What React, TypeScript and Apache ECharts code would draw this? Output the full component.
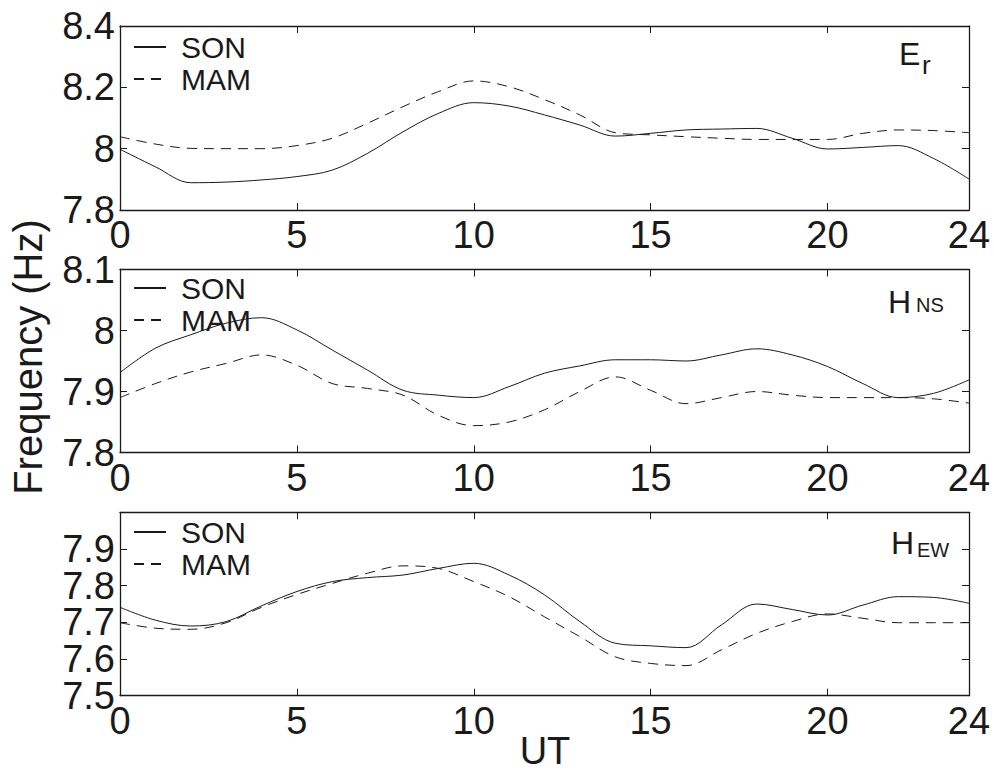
import React, { useEffect, useRef } from "react";
import * as echarts from "echarts";

const HOURS = [0, 1, 2, 3, 4, 5, 6, 7, 8, 9, 10, 11, 12, 13, 14, 15, 16, 17, 18, 19, 20, 21, 22, 23, 24];

const ER_SON = [7.998, 7.941, 7.889, 7.891, 7.898, 7.909, 7.93, 7.985, 8.055, 8.115, 8.15, 8.139, 8.11, 8.077, 8.041, 8.05, 8.061, 8.064, 8.066, 8.034, 7.999, 8.004, 8.01, 7.968, 7.901];
const ER_MAM = [8.039, 8.015, 8.001, 8.0, 8.0, 8.01, 8.034, 8.083, 8.137, 8.186, 8.221, 8.202, 8.16, 8.11, 8.052, 8.045, 8.039, 8.034, 8.03, 8.03, 8.03, 8.05, 8.061, 8.059, 8.052];

const HNS_SON = [7.931, 7.971, 7.993, 8.012, 8.021, 8.001, 7.968, 7.935, 7.902, 7.894, 7.89, 7.908, 7.93, 7.942, 7.952, 7.952, 7.95, 7.96, 7.97, 7.96, 7.941, 7.913, 7.89, 7.897, 7.919];
const HNS_MAM = [7.89, 7.913, 7.932, 7.946, 7.96, 7.943, 7.913, 7.905, 7.894, 7.861, 7.844, 7.85, 7.87, 7.9, 7.924, 7.902, 7.88, 7.89, 7.9, 7.894, 7.89, 7.89, 7.89, 7.888, 7.881];

const HEW_SON = [7.741, 7.706, 7.69, 7.702, 7.745, 7.784, 7.811, 7.822, 7.829, 7.847, 7.861, 7.829, 7.775, 7.702, 7.643, 7.636, 7.631, 7.693, 7.75, 7.735, 7.72, 7.747, 7.77, 7.768, 7.752];
const HEW_MAM = [7.699, 7.684, 7.681, 7.699, 7.741, 7.776, 7.806, 7.834, 7.854, 7.847, 7.811, 7.77, 7.715, 7.661, 7.606, 7.588, 7.582, 7.625, 7.67, 7.702, 7.723, 7.711, 7.699, 7.699, 7.699];

const SERIES_NAMES = ["SON", "MAM"];
const Y_MIN = [7.8, 7.8, 7.5];
const Y_MAX = [8.4, 8.1, 8.0];
const Y_STEP = [0.2, 0.1, 0.1];
const X_MIN = 0;
const X_MAX = 24;
const X_STEP = 5;

const FONT = "'Liberation Sans', Arial, Helvetica, sans-serif";
const INK = "#1a1a1a";

const fmt = (v: number) => String(parseFloat(v.toFixed(2)));

export default function App() {
  const ref = useRef<HTMLDivElement>(null);

  useEffect(() => {
    if (!ref.current) return;
    const chart = echarts.init(ref.current, undefined, { renderer: "svg" });

    const panels = [
      { son: ER_SON, mam: ER_MAM },
      { son: HNS_SON, mam: HNS_MAM },
      { son: HEW_SON, mam: HEW_MAM },
    ];
    const gridTops = [26, 269.5, 512.3];
    const gridHeights = [184, 183, 183.4];
    const legendTops = [27, 268, 512];

    const axisLine = { show: true, onZero: false, lineStyle: { color: INK, width: 1.3 } };
    const axisTick = { show: true, inside: true, length: 7, lineStyle: { color: INK, width: 1 } };
    const yLabelBase = {
      fontSize: 38, lineHeight: 18, color: INK, fontFamily: FONT, margin: 5, padding: [0, 0, 9, 0], hideOverlap: false,
    };

    const grid: any[] = [];
    const xAxis: any[] = [];
    const yAxis: any[] = [];
    const series: any[] = [];
    const legend: any[] = [];

    panels.forEach((p, i) => {
      grid.push({ left: 120, top: gridTops[i], width: 849, height: gridHeights[i] });
      xAxis.push({
        type: "value", gridIndex: i, position: "bottom", min: X_MIN, max: X_MAX, interval: X_STEP,
        axisLine, axisTick, splitLine: { show: false },
        axisLabel: { fontSize: 38, color: INK, fontFamily: FONT, margin: 6, showMaxLabel: true, showMinLabel: true, hideOverlap: false },
      });
      xAxis.push({
        type: "value", gridIndex: i, position: "top", min: X_MIN, max: X_MAX, interval: X_STEP,
        axisLine, axisTick, splitLine: { show: false }, axisLabel: { show: false },
      });
      const isLast = i === 2;
      yAxis.push({
        type: "value", gridIndex: i, position: "left", min: Y_MIN[i], max: Y_MAX[i], interval: Y_STEP[i],
        axisLine, axisTick, splitLine: { show: false },
        axisLabel: {
          ...yLabelBase,
          // the bottom panel's lowest label is drawn by a companion axis (see below)
          showMinLabel: !isLast,
          showMaxLabel: !isLast,
          formatter: fmt,
        },
      });
      yAxis.push({
        type: "value", gridIndex: i, position: "right", min: Y_MIN[i], max: Y_MAX[i], interval: Y_STEP[i],
        axisLine, axisTick, splitLine: { show: false }, axisLabel: { show: false },
      });
      [p.son, p.mam].forEach((arr, k) => {
        series.push({
          name: SERIES_NAMES[k],
          type: "line",
          xAxisIndex: 2 * i,
          yAxisIndex: 2 * i,
          data: HOURS.map((h, j) => [h, arr[j]]),
          smooth: 0.35,
          symbol: "none",
          showSymbol: false,
          lineStyle: { color: INK, width: 1, type: k === 0 ? "solid" : [10, 7] },
          itemStyle: { color: INK },
        });
      });
      legend.push({
        data: SERIES_NAMES,
        orient: "vertical",
        left: 128,
        top: legendTops[i],
        itemWidth: 32,
        itemHeight: 14,
        itemGap: 2,
        selectedMode: false,
        itemStyle: { opacity: 0, borderWidth: 0 },
        textStyle: { fontSize: 30, color: INK, fontFamily: FONT, padding: [0, 0, 0, 10] },
      });
    });

    // companion axis on the bottom panel that shows only its minimum label
    yAxis.push({
      type: "value", gridIndex: 2, position: "left", min: Y_MIN[2], max: Y_MAX[2], interval: Y_STEP[2],
      axisLine: { show: false }, axisTick: { show: false }, splitLine: { show: false },
      axisLabel: {
        ...yLabelBase,
        showMinLabel: true,
        showMaxLabel: false,
        formatter: (v: number) => (Math.abs(v - Y_MIN[2]) < 1e-9 ? fmt(v) : ""),
      },
    });

    const graphic: any[] = [
      {
        type: "text", x: 28, y: 357, rotation: Math.PI / 2,
        style: { text: "Frequency (Hz)", fontSize: 40, fontFamily: FONT, fill: INK, align: "center", verticalAlign: "middle" },
      },
      {
        type: "text", x: 545, y: 750.5,
        style: { text: "UT", fontSize: 38, lineHeight: 24, fontFamily: FONT, fill: INK, align: "center", verticalAlign: "middle" },
      },
      { type: "text", x: 899, y: 54, style: { text: "E", fontSize: 32, fontFamily: FONT, fill: INK, align: "left", verticalAlign: "middle" } },
      { type: "text", x: 922, y: 65, style: { text: "r", fontSize: 26, fontFamily: FONT, fill: INK, align: "left", verticalAlign: "middle" } },
      { type: "text", x: 888, y: 302, style: { text: "H", fontSize: 32, fontFamily: FONT, fill: INK, align: "left", verticalAlign: "middle" } },
      { type: "text", x: 916, y: 305, style: { text: "NS", fontSize: 20, fontFamily: FONT, fill: INK, align: "left", verticalAlign: "middle" } },
      { type: "text", x: 891, y: 543, style: { text: "H", fontSize: 32, fontFamily: FONT, fill: INK, align: "left", verticalAlign: "middle" } },
      { type: "text", x: 917, y: 550, style: { text: "EW", fontSize: 20, fontFamily: FONT, fill: INK, align: "left", verticalAlign: "middle" } },
    ];

    chart.setOption({
      animation: false,
      backgroundColor: "#ffffff",
      textStyle: { fontFamily: FONT },
      grid,
      xAxis,
      yAxis,
      series,
      legend,
      graphic,
    });

    return () => chart.dispose();
  }, []);

  return <div ref={ref} style={{ position: "absolute", left: 0, top: 0, width: 994, height: 772 }} />;
}
